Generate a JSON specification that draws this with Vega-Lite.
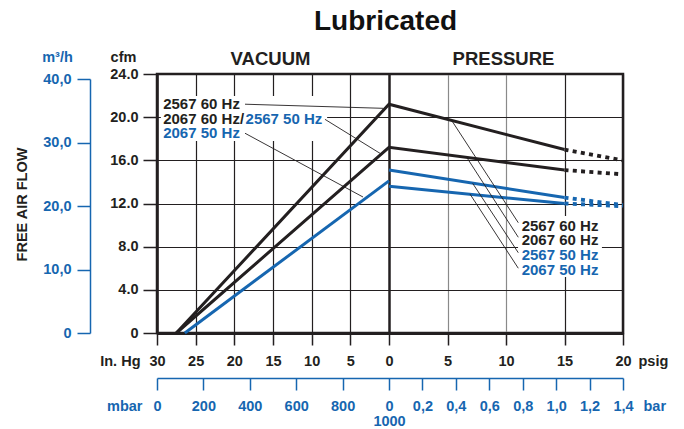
{
  "$schema": "https://vega.github.io/schema/vega-lite/v6.json",
  "width": 466,
  "height": 259,
  "autosize": {"type": "none"},
  "padding": {"left": 157, "top": 74, "right": 61, "bottom": 96},
  "config": {
    "view": {"stroke": "#231f20", "strokeWidth": 2.5},
    "font": "Liberation Sans",
    "axis": {"labelFont": "Liberation Sans", "titleFont": "Liberation Sans", "labelFontWeight": "bold", "titleFontWeight": "bold", "labelFlush": false, "labelOverlap": false, "labelBound": false}
  },
  "datasets": {
    "lines": [
      {"id": "a", "clr": "k", "x": -27.5, "y": 0},
      {"id": "a", "clr": "k", "x": 0, "y": 21.2},
      {"id": "a", "clr": "k", "x": 15, "y": 17.0},
      {"id": "b", "clr": "k", "x": -27.5, "y": 0},
      {"id": "b", "clr": "k", "x": 0, "y": 17.2},
      {"id": "b", "clr": "k", "x": 15, "y": 15.1},
      {"id": "c", "clr": "b", "x": -26.4, "y": 0},
      {"id": "c", "clr": "b", "x": 0, "y": 14.1},
      {"id": "d", "clr": "b", "x": 0, "y": 15.1},
      {"id": "d", "clr": "b", "x": 15, "y": 12.55},
      {"id": "e", "clr": "b", "x": 0, "y": 13.6},
      {"id": "e", "clr": "b", "x": 15, "y": 12.0}
    ],
    "dots": [
      {"id": "a", "clr": "k", "x": 15, "y": 17.0},
      {"id": "a", "clr": "k", "x": 20, "y": 16.0},
      {"id": "b", "clr": "k", "x": 15, "y": 15.1},
      {"id": "b", "clr": "k", "x": 20, "y": 14.7},
      {"id": "d", "clr": "b", "x": 15, "y": 12.55},
      {"id": "d", "clr": "b", "x": 20, "y": 11.85},
      {"id": "e", "clr": "b", "x": 15, "y": 12.0},
      {"id": "e", "clr": "b", "x": 20, "y": 11.75}
    ],
    "leaders": [
      {"x": -18.62, "y": 21.2, "x2": -0.74, "y2": 20.82},
      {"x": -8.28, "y": 19.8, "x2": -1.03, "y2": 16.59},
      {"x": -18.62, "y": 18.51, "x2": -3.36, "y2": 12.6},
      {"x": 5.36, "y": 19.69, "x2": 11.05, "y2": 10.22},
      {"x": 6.64, "y": 16.28, "x2": 11.05, "y2": 8.87},
      {"x": 7.15, "y": 13.87, "x2": 11.05, "y2": 7.44},
      {"x": 6.92, "y": 12.88, "x2": 11.05, "y2": 6.0}
    ],
    "boxes": [
      {"x": -29.5, "y": 21.96, "x2": -8.0, "y2": 17.79},
      {"x": 11.03, "y": 10.84, "x2": 18.2, "y2": 5.19}
    ],
    "labels": [
      {"t": "2567 60 Hz", "clr": "k", "x": -29.2, "y": 21.2},
      {"t": "2067 60 Hz/", "clr": "k", "x": -29.2, "y": 19.8},
      {"t": "2567 50 Hz", "clr": "b", "x": -18.55, "y": 19.8},
      {"t": "2067 50 Hz", "clr": "b", "x": -29.2, "y": 18.51},
      {"t": "2567 60 Hz", "clr": "k", "x": 11.34, "y": 9.94},
      {"t": "2067 60 Hz", "clr": "k", "x": 11.34, "y": 8.6},
      {"t": "2567 50 Hz", "clr": "b", "x": 11.34, "y": 7.2},
      {"t": "2067 50 Hz", "clr": "b", "x": 11.34, "y": 5.84}
    ],
    "one": [{"v": 0}]
  },
  "layer": [
    {
      "data": {"name": "boxes"},
      "mark": {"type": "rect", "fill": "white"},
      "encoding": {
        "x": {"field": "x", "type": "quantitative",
          "scale": {"domain": [-30, 0, 20], "range": [0, 232, 466], "nice": false, "zero": false},
          "axis": {"orient": "bottom", "values": [-30, -25, -20, -15, -10, -5, 0, 5, 10, 15, 20],
            "labelExpr": "'' + abs(datum.value)",
            "grid": true,
            "gridColor": {"condition": {"test": "datum.value == 5 || datum.value == 10", "value": "#8a8a8a"}, "value": "#231f20"},
            "gridWidth": {"condition": {"test": "datum.value == 0", "value": 2.5}, "value": 1.2},
            "gridOpacity": 1,
            "tickSize": 12, "tickColor": "#231f20", "tickWidth": 1.5,
            "domainColor": "#231f20", "domainWidth": 3,
            "labelFontSize": 14.5, "labelColor": "#231f20", "labelBaseline": "alphabetic", "labelPadding": 20,
            "title": "In. Hg", "titleFontSize": 14.5, "titleColor": "#231f20",
            "titleX": -17, "titleY": 32, "titleAlign": "right", "titleBaseline": "alphabetic", "titleAngle": 0}},
        "x2": {"field": "x2"},
        "y": {"field": "y", "type": "quantitative",
          "scale": {"domain": [0, 24], "nice": false},
          "axis": {"orient": "left", "values": [0, 4, 8, 12, 16, 20, 24],
            "labelExpr": "datum.value == 0 ? '0' : format(datum.value, '.1f')",
            "grid": true, "gridColor": "#231f20", "gridWidth": 1.2, "gridOpacity": 1,
            "tickSize": 14, "tickColor": "#231f20", "tickWidth": 1.5,
            "domainColor": "#231f20", "domainWidth": 2.5,
            "labelFontSize": 14.5, "labelColor": "#231f20", "labelPadding": 5,
            "title": "cfm", "titleAngle": 0, "titleX": -34, "titleY": -17,
            "titleAlign": "center", "titleBaseline": "middle", "titleFontSize": 14.5, "titleColor": "#231f20"}},
        "y2": {"field": "y2"}
      }
    },
    {
      "data": {"name": "lines"},
      "mark": {"type": "line", "strokeWidth": 3, "strokeJoin": "miter"},
      "encoding": {
        "x": {"field": "x", "type": "quantitative", "axis": null,
          "scale": {"domain": [-30, 0, 20], "range": [0, 232, 466], "nice": false, "zero": false}},
        "y": {"field": "y", "type": "quantitative", "axis": null, "scale": {"domain": [0, 24], "nice": false}},
        "detail": {"field": "id"},
        "color": {"field": "clr", "type": "nominal", "scale": {"domain": ["k", "b"], "range": ["#231f20", "#1666b0"]}, "legend": null}
      }
    },
    {
      "data": {"name": "dots"},
      "mark": {"type": "line", "strokeWidth": 3.8, "strokeDash": [4, 4.3]},
      "encoding": {
        "x": {"field": "x", "type": "quantitative", "axis": null,
          "scale": {"domain": [-30, 0, 20], "range": [0, 232, 466], "nice": false, "zero": false}},
        "y": {"field": "y", "type": "quantitative", "axis": null, "scale": {"domain": [0, 24], "nice": false}},
        "detail": {"field": "id"},
        "color": {"field": "clr", "type": "nominal", "scale": {"domain": ["k", "b"], "range": ["#231f20", "#1666b0"]}, "legend": null}
      }
    },
    {
      "data": {"name": "leaders"},
      "mark": {"type": "rule", "strokeWidth": 0.9, "color": "#231f20"},
      "encoding": {
        "x": {"field": "x", "type": "quantitative", "axis": null,
          "scale": {"domain": [-30, 0, 20], "range": [0, 232, 466], "nice": false, "zero": false}},
        "x2": {"field": "x2"},
        "y": {"field": "y", "type": "quantitative", "axis": null, "scale": {"domain": [0, 24], "nice": false}},
        "y2": {"field": "y2"}
      }
    },
    {
      "data": {"name": "labels"},
      "mark": {"type": "text", "font": "Liberation Sans", "fontWeight": "bold", "fontSize": 15, "align": "left", "baseline": "middle"},
      "encoding": {
        "x": {"field": "x", "type": "quantitative", "axis": null,
          "scale": {"domain": [-30, 0, 20], "range": [0, 232, 466], "nice": false, "zero": false}},
        "y": {"field": "y", "type": "quantitative", "axis": null, "scale": {"domain": [0, 24], "nice": false}},
        "text": {"field": "t"},
        "color": {"field": "clr", "type": "nominal", "scale": {"domain": ["k", "b"], "range": ["#231f20", "#1666b0"]}, "legend": null}
      }
    },
    {
      "data": {"name": "one"},
      "mark": {"type": "point", "opacity": 0},
      "encoding": {
        "y": {"field": "v", "type": "quantitative",
          "scale": {"domain": [0, 40], "range": [259, 5], "nice": false},
          "axis": {"orient": "left", "offset": 67, "values": [0, 10, 20, 30, 40],
            "labelExpr": "datum.value == 0 ? '0' : replace(format(datum.value, '.1f'), '.', ',')",
            "grid": false, "tickSize": 13, "tickColor": "#1666b0", "tickWidth": 1.5,
            "domainColor": "#1666b0", "domainWidth": 1.5,
            "labelColor": "#1666b0", "labelFontSize": 14.5, "labelPadding": 6,
            "title": "m³/h", "titleAngle": 0, "titleX": -33, "titleY": -17,
            "titleAlign": "center", "titleBaseline": "middle", "titleColor": "#1666b0", "titleFontSize": 14.5}}
      }
    },
    {
      "data": {"name": "one"},
      "mark": {"type": "point", "opacity": 0},
      "encoding": {
        "y": {"field": "v", "type": "quantitative",
          "scale": {"domain": [0, 1]},
          "axis": {"orient": "left", "offset": 67, "labels": false, "ticks": false, "domain": false, "grid": false,
            "title": "FREE AIR FLOW", "titleAngle": -90, "titleX": -68, "titleY": 130,
            "titleAlign": "center", "titleBaseline": "middle", "titleColor": "#231f20", "titleFontSize": 14.5}}
      }
    },
    {
      "data": {"name": "one"},
      "mark": {"type": "point", "opacity": 0},
      "encoding": {
        "x": {"field": "v", "type": "quantitative",
          "scale": {"domain": [-30, 0, 20], "range": [0, 232, 466], "nice": false, "zero": false},
          "axis": {"orient": "bottom", "labels": false, "ticks": false, "domain": false, "grid": false,
            "title": "psig", "titleX": 481, "titleY": 32, "titleAlign": "left", "titleBaseline": "alphabetic",
            "titleColor": "#231f20", "titleFontSize": 14.5, "titleAngle": 0}}
      }
    },
    {
      "data": {"name": "one"},
      "mark": {"type": "point", "opacity": 0},
      "encoding": {
        "x": {"field": "v", "type": "quantitative",
          "scale": {"domain": [0, 1000, 2400], "range": [0, 232, 466], "nice": false, "zero": false},
          "axis": {"orient": "bottom", "offset": 45,
            "values": [0, 200, 400, 600, 800, 1000, 1200, 1400, 1600, 1800, 2000, 2200, 2400],
            "labelExpr": "datum.value < 1000 ? '' + datum.value : (datum.value == 1000 ? ['0', '1000'] : replace(format((datum.value - 1000) / 1000, '.1f'), '.', ','))",
            "grid": false, "tickSize": 12, "tickColor": "#1666b0", "tickWidth": 1.5,
            "domainColor": "#1666b0", "domainWidth": 1.5,
            "labelColor": "#1666b0", "labelFontSize": 14.5, "labelBaseline": "alphabetic", "labelPadding": 20, "labelLineHeight": 15,
            "title": "mbar", "titleX": -15, "titleY": 32, "titleAlign": "right", "titleBaseline": "alphabetic",
            "titleColor": "#1666b0", "titleFontSize": 14.5, "titleAngle": 0}}
      }
    },
    {
      "data": {"name": "one"},
      "mark": {"type": "point", "opacity": 0},
      "encoding": {
        "x": {"field": "v", "type": "quantitative",
          "scale": {"domain": [0, 1000, 2400], "range": [0, 232, 466], "nice": false, "zero": false},
          "axis": {"orient": "bottom", "offset": 45, "labels": false, "ticks": false, "domain": false, "grid": false,
            "title": "bar", "titleX": 486, "titleY": 32, "titleAlign": "left", "titleBaseline": "alphabetic",
            "titleColor": "#1666b0", "titleFontSize": 14.5, "titleAngle": 0}}
      }
    },
    {
      "data": {"name": "one"},
      "mark": {"type": "point", "opacity": 0},
      "encoding": {
        "x": {"field": "v", "type": "quantitative",
          "scale": {"domain": [-30, 0, 20], "range": [0, 232, 466], "nice": false, "zero": false},
          "axis": {"orient": "top", "values": [-15, 10],
            "labelExpr": "datum.value < 0 ? 'VACUUM' : 'PRESSURE'",
            "ticks": false, "tickSize": 0, "domain": false, "grid": false,
            "labelFontSize": 18.5, "labelColor": "#231f20", "labelBaseline": "alphabetic", "labelPadding": 10, "labelOffset": -3,
            "title": "Lubricated", "titleFontSize": 28, "titleColor": "#111111",
            "titleX": 228, "titleY": -45, "titleAlign": "center", "titleBaseline": "alphabetic", "titleAngle": 0}}
      }
    }
  ],
  "resolve": {"scale": {"x": "independent", "y": "independent"}}
}
